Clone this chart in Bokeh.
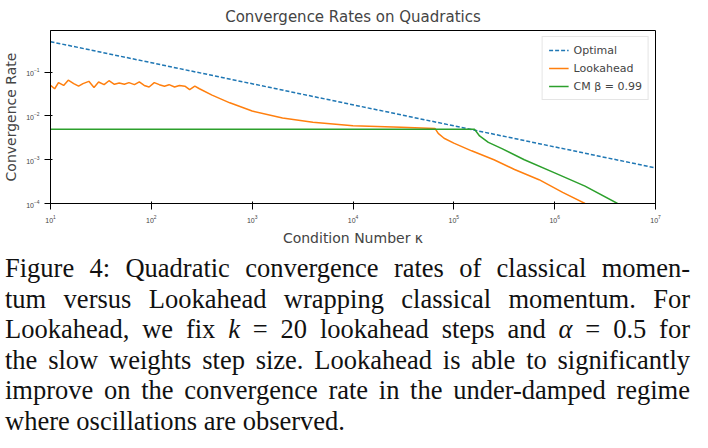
from bokeh.plotting import figure
from bokeh.models import Div, Legend, LegendItem
from bokeh.layouts import column
from bokeh.embed import file_html
from bokeh.resources import INLINE

opt_k = [10, 1e7]
opt_r = [0.5, 6.5e-4]

la_k = [10, 11, 12, 13.5, 15, 17, 19, 21, 24, 27, 30, 34, 38, 43, 48, 54, 60, 68, 76, 85, 95,
        107, 120, 135, 150, 170, 190, 215, 240, 270, 300, 400, 600, 1000, 2000, 4000, 1e4,
        3e4, 6.5e4, 7e4, 8e4, 1e5, 1.5e5, 2.5e5, 4e5, 7e5, 1.2e6, 2e6]
la_r = [0.05, 0.042, 0.058, 0.05, 0.066, 0.055, 0.048, 0.055, 0.062, 0.045, 0.06, 0.052, 0.064,
        0.053, 0.057, 0.053, 0.058, 0.052, 0.06, 0.05, 0.046, 0.058, 0.052, 0.048, 0.052,
        0.046, 0.05, 0.048, 0.04, 0.048, 0.042, 0.03, 0.02, 0.013, 0.009, 0.0072, 0.006,
        0.0055, 0.0052, 0.004, 0.0031, 0.0024, 0.0016, 0.001, 0.0006, 0.00035, 0.00018, 0.0001]

cm_k = [10, 1.6e5, 1.8e5, 2.2e5, 3e5, 5e5, 1e6, 2e6, 4.2e6]
cm_r = [0.005, 0.005, 0.0035, 0.0025, 0.0018, 0.001, 0.0005, 0.00025, 0.0001]

caption_lines = [
    "Figure 4: Quadratic convergence rates of classical momen-",
    "tum versus Lookahead wrapping classical momentum. For",
    "Lookahead, we fix <i>k</i> = 20 lookahead steps and <i>α</i> = 0.5 for",
    "the slow weights step size. Lookahead is able to significantly",
    "improve on the convergence rate in the under-damped regime",
    "where oscillations are observed.",
]

p = figure(width=700, height=248, x_axis_type="log", y_axis_type="log",
           x_range=(10, 1e7), y_range=(1e-4, 0.9), output_backend="svg",
           toolbar_location=None, title="Convergence Rates on Quadratics",
           x_axis_label="Condition Number κ", y_axis_label="Convergence Rate",
           min_border_left=30, min_border_right=45, min_border_top=0)
p.title.align = "center"
p.title.text_font = "DejaVu Sans"
p.title.text_font_size = "15px"
p.title.text_font_style = "normal"
p.xgrid.visible = False
p.ygrid.visible = False
p.outline_line_color = "black"
for ax in (p.xaxis[0], p.yaxis[0]):
    ax.axis_label_text_font = "DejaVu Sans"
    ax.axis_label_text_font_size = "14px"
    ax.axis_label_text_font_style = "normal"
    ax.axis_label_standoff = 4
    ax.major_label_text_font_size = "7px"
    ax.minor_tick_line_color = None
    ax.axis_line_color = "black"

r1 = p.line(opt_k, opt_r, line_color="#1f77b4", line_width=1.5, line_dash="4 2")
r2 = p.line(la_k, la_r, line_color="#ff7f0e", line_width=1.5)
r3 = p.line(cm_k, cm_r, line_color="#2ca02c", line_width=1.5)

leg = Legend(items=[LegendItem(label="Optimal", renderers=[r1]),
                    LegendItem(label="Lookahead", renderers=[r2]),
                    LegendItem(label="CM β = 0.99", renderers=[r3])],
             location="top_right", label_text_font_size="11px", label_text_font="DejaVu Sans",
             border_line_color="#cccccc", glyph_height=14, label_height=14, spacing=4,
             padding=6, margin=6)
p.add_layout(leg)

rows = []
for i, ln in enumerate(caption_lines):
    last = "left" if i == len(caption_lines) - 1 else "justify"
    rows.append(f'<div style="text-align:justify;text-align-last:{last};white-space:nowrap">{ln}</div>')
caption = Div(width=690, text='<div style="font-family:\'Liberation Serif\';font-size:26.5px;'
              'line-height:30.5px;color:#111;width:685px">' + "".join(rows) + "</div>")

open("out.html", "w").write(file_html(column(p, caption, spacing=0), INLINE))
